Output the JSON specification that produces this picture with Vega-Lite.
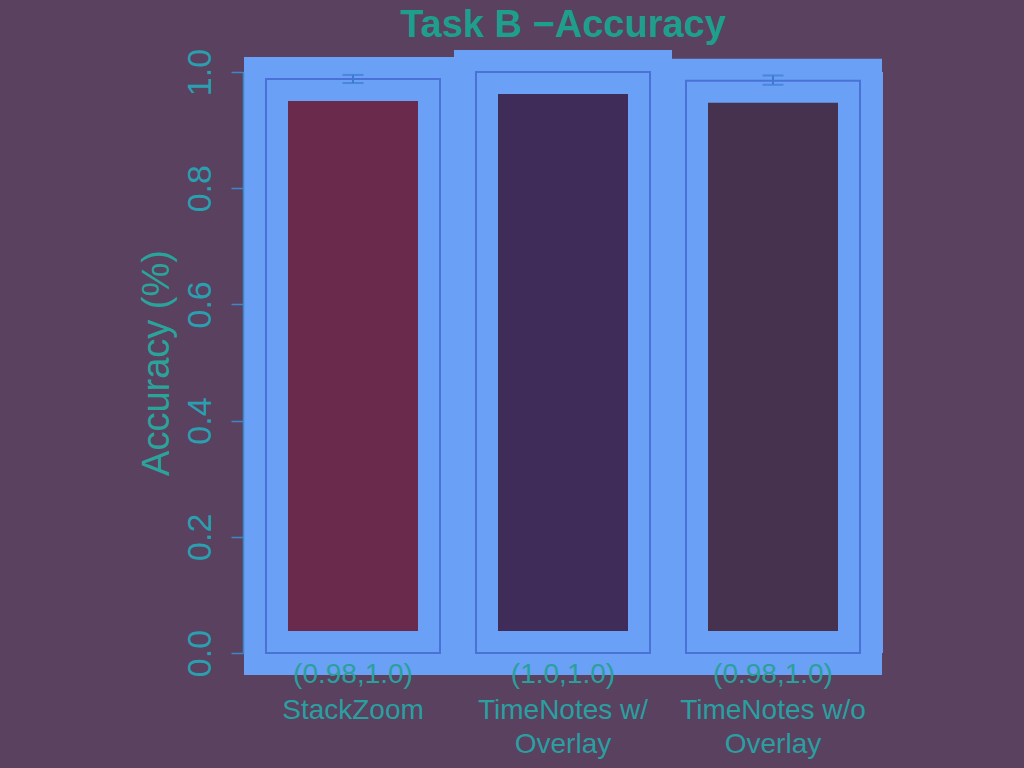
{
  "$schema": "https://vega.github.io/schema/vega-lite/v6.json",
  "autosize": {"type": "none"},
  "padding": {"left": 243, "top": 72, "right": 141, "bottom": 115},
  "width": 640,
  "height": 581,
  "background": "#5a4160",
  "config": {
    "view": {"fill": "#6a9ef4", "stroke": null},
    "font": "Liberation Sans"
  },
  "title": {
    "text": "Task B \u2212Accuracy",
    "fontSize": 38,
    "fontWeight": "bold",
    "color": "#1e9e8c",
    "anchor": "middle",
    "offset": 3,
    "dx": 0
  },
  "data": {
    "values": [
      {"name": "StackZoom", "acc": 0.988, "lo": 0.981, "hi": 0.995, "ci": "(0.98,1.0)"},
      {"name": "TimeNotes w/|Overlay", "acc": 1.0, "lo": null, "hi": null, "ci": "(1.0,1.0)"},
      {"name": "TimeNotes w/o|Overlay", "acc": 0.985, "lo": 0.978, "hi": 0.994, "ci": "(0.98,1.0)"}
    ]
  },
  "encoding": {
    "x": {
      "field": "name",
      "type": "nominal",
      "sort": null,
      "scale": {"paddingInner": 0.1714, "paddingOuter": 0.1095},
      "axis": {
        "title": null,
        "labelAngle": 0,
        "labelExpr": "split(datum.label, '|')",
        "labelFontSize": 28,
        "labelColor": "#2a9fa0",
        "labelLineHeight": 34,
        "labelBaseline": "top",
        "labelPadding": 43,
        "labelLimit": 400,
        "ticks": false,
        "domain": false
      }
    }
  },
  "layer": [
    {
      "mark": {"type": "bar", "stroke": "#6aa1f6", "strokeWidth": 44},
      "encoding": {
        "y": {
          "field": "acc",
          "type": "quantitative",
          "scale": {"domain": [0, 1], "nice": false},
          "axis": {
            "title": "Accuracy (%)",
            "titleFontSize": 38,
            "titleFontWeight": "normal",
            "titleColor": "#2aa39a",
            "titlePadding": 7,
            "values": [0, 0.2, 0.4, 0.6, 0.8, 1.0],
            "format": ".1f",
            "labelFontSize": 34,
            "labelColor": "#2a9fb0",
            "labelAngle": -90,
            "labelAlign": "center",
            "labelBaseline": "bottom",
            "labelPadding": 14,
            "tickSize": 12,
            "tickColor": "#3f86c8",
            "domainColor": "#3f86c8",
            "tickWidth": 1.5,
            "domainWidth": 1.5,
            "grid": false,
            "zindex": 1
          }
        },
        "color": {
          "field": "name",
          "type": "nominal",
          "sort": null,
          "legend": null,
          "scale": {"range": ["#6a2a4c", "#3f2c58", "#46324f"]}
        }
      }
    },
    {
      "mark": {"type": "bar", "fillOpacity": 0, "stroke": "#4a72d6", "strokeWidth": 2},
      "encoding": {"y": {"field": "acc", "type": "quantitative"}}
    },
    {
      "mark": {"type": "rule", "color": "#3a7cd0", "strokeWidth": 2},
      "encoding": {
        "y": {"field": "lo", "type": "quantitative"},
        "y2": {"field": "hi"}
      }
    },
    {
      "mark": {"type": "tick", "color": "#3a7cd0", "thickness": 2, "size": 21},
      "encoding": {"y": {"field": "lo", "type": "quantitative"}}
    },
    {
      "mark": {"type": "tick", "color": "#3a7cd0", "thickness": 2, "size": 21},
      "encoding": {"y": {"field": "hi", "type": "quantitative"}}
    },
    {
      "mark": {"type": "text", "fontSize": 28, "color": "#2aa09a", "baseline": "middle", "dy": 22},
      "encoding": {
        "y": {"datum": 0, "type": "quantitative"},
        "text": {"field": "ci"}
      }
    }
  ]
}
